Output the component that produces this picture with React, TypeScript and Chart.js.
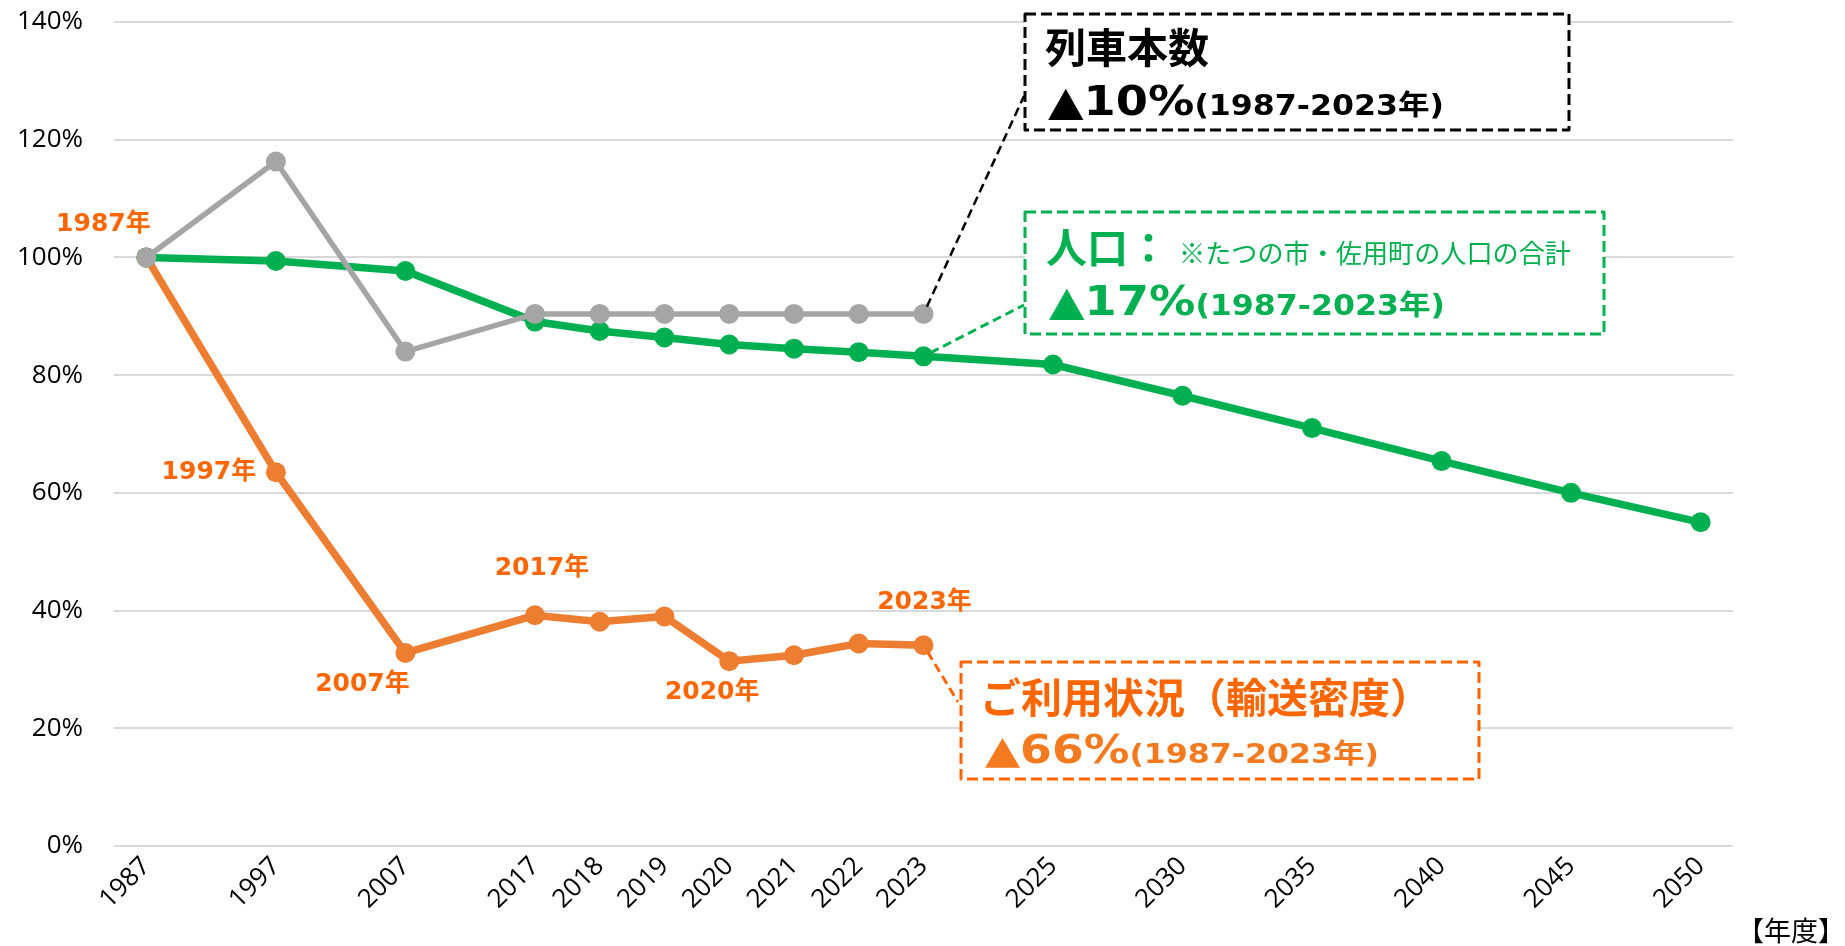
import React, { useEffect, useRef } from 'react';
import { Chart, registerables } from 'chart.js';

Chart.register(...registerables);

// ---------- data ----------
const categories = ['1987', '', '1997', '', '2007', '', '2017', '2018', '2019', '2020', '2021', '2022', '2023', '', '2025', '', '2030', '', '2035', '', '2040', '', '2045', '', '2050'];

const trainService: (number | null)[] = [100, null, 116.3, null, 84.0, null, 90.4, 90.4, 90.4, 90.4, 90.4, 90.4, 90.4, null, null, null, null, null, null, null, null, null, null, null, null];
const population: (number | null)[] = [100, null, 99.4, null, 97.7, null, 89.1, 87.5, 86.4, 85.2, 84.5, 83.9, 83.2, null, 81.8, null, 76.5, null, 71.0, null, 65.4, null, 60.0, null, 55.0];
const ridership: (number | null)[] = [100, null, 63.5, null, 32.8, null, 39.2, 38.1, 39.0, 31.4, 32.4, 34.4, 34.1, null, null, null, null, null, null, null, null, null, null, null, null];

const yTickValues = [0, 20, 40, 60, 80, 100, 120, 140];

const ridershipLabelIndex = [0, 2, 4, 6, 9, 12];
const ridershipLabelText = ['1987年', '1997年', '2007年', '2017年', '2020年', '2023年'];

const trainBoxLines = ['列車本数', '▲10%', '(1987-2023年)'];
const popBoxLines = ['人口：', '※たつの市・佐用町の人口の合計', '▲17%', '(1987-2023年)'];
const rideBoxLines = ['ご利用状況（輸送密度）', '▲66%', '(1987-2023年)'];
const xUnitLabel = '【年度】';

// ---------- styles ----------
const GREEN = '#00B050';
const ORANGE_LINE = '#ED7D31';
const ORANGE_TEXT = '#FF6600';
const ORANGE_TEXT2 = '#F47A20';
const GREY = '#A5A5A5';
const LAT = '"DejaVu Sans", "Noto Sans CJK JP", sans-serif';
const CJK = '"Noto Sans CJK JP", sans-serif';

type Run = { text: string; font: string };

function drawRuns(ctx: CanvasRenderingContext2D, runs: Run[], x: number, baseline: number, color: string, targetWidth?: number) {
  let w = 0;
  for (const r of runs) {
    ctx.font = r.font;
    w += ctx.measureText(r.text).width;
  }
  const sx = targetWidth ? targetWidth / w : 1;
  ctx.save();
  ctx.translate(x, baseline);
  ctx.scale(sx, 1);
  ctx.fillStyle = color;
  ctx.textAlign = 'left';
  ctx.textBaseline = 'alphabetic';
  let cx = 0;
  for (const r of runs) {
    ctx.font = r.font;
    ctx.fillText(r.text, cx, 0);
    cx += ctx.measureText(r.text).width;
  }
  ctx.restore();
}

function dashedRect(ctx: CanvasRenderingContext2D, x: number, y: number, w: number, h: number, color: string) {
  ctx.save();
  ctx.strokeStyle = color;
  ctx.lineWidth = 3;
  ctx.setLineDash([11, 5]);
  ctx.lineJoin = 'round';
  ctx.strokeRect(x, y, w, h);
  ctx.restore();
}

function leader(ctx: CanvasRenderingContext2D, x0: number, y0: number, x1: number, y1: number, color: string, width: number, r: number) {
  const dx = x1 - x0, dy = y1 - y0;
  const len = Math.hypot(dx, dy);
  const sx = x0 + (dx / len) * r, sy = y0 + (dy / len) * r;
  ctx.save();
  ctx.strokeStyle = color;
  ctx.lineWidth = width;
  ctx.setLineDash([9, 5]);
  ctx.beginPath();
  ctx.moveTo(sx, sy);
  ctx.lineTo(x1, y1);
  ctx.stroke();
  ctx.restore();
}

const annotations = {
  id: 'annotations',
  afterDatasetsDraw(chart: any) {
    const ctx: CanvasRenderingContext2D = chart.ctx;
    const greyMeta = chart.getDatasetMeta(0);
    const greenMeta = chart.getDatasetMeta(1);
    const orangeMeta = chart.getDatasetMeta(2);

    // leader lines
    const gp = greyMeta.data[12];
    leader(ctx, gp.x, gp.y, 1024, 96, '#000', 2.5, 8);
    const np = greenMeta.data[12];
    leader(ctx, np.x, np.y, 1024, 305, GREEN, 3, 8);
    const op = orangeMeta.data[12];
    leader(ctx, op.x, op.y, 958, 702, ORANGE_TEXT, 3, 8);

    // ridership point labels
    const offs = [[-43, -33], [-67, 0], [-43, 32], [7, -47], [-17, 31], [1, -43]];
    ctx.save();
    ctx.fillStyle = ORANGE_TEXT;
    ctx.font = `bold 25px ${LAT}`;
    ctx.textAlign = 'center';
    ctx.textBaseline = 'middle';
    ridershipLabelIndex.forEach((idx, i) => {
      const p = orangeMeta.data[idx];
      ctx.fillText(ridershipLabelText[i], p.x + offs[i][0], p.y + offs[i][1]);
    });
    ctx.restore();

    // boxes
    ctx.save();
    ctx.fillStyle = '#fff';
    ctx.fillRect(1025, 14, 544, 116);
    ctx.fillRect(1025, 212, 579, 122);
    ctx.fillRect(961, 662, 518, 117);
    ctx.restore();

    dashedRect(ctx, 1025, 14, 544, 116, '#000');
    drawRuns(ctx, [{ text: trainBoxLines[0], font: `bold 41px ${CJK}` }], 1045, 63, '#000');
    drawRuns(ctx, [{ text: trainBoxLines[1], font: `bold 41px ${LAT}` }, { text: trainBoxLines[2], font: `bold 28px ${LAT}` }], 1048, 115, '#000', 396);

    dashedRect(ctx, 1025, 212, 579, 122, GREEN);
    drawRuns(ctx, [{ text: popBoxLines[0], font: `bold 41px ${CJK}` }], 1046, 263, GREEN);
    drawRuns(ctx, [{ text: popBoxLines[1], font: `26px ${CJK}` }], 1179, 263, GREEN, 392);
    drawRuns(ctx, [{ text: popBoxLines[2], font: `bold 41px ${LAT}` }, { text: popBoxLines[3], font: `bold 28px ${LAT}` }], 1049, 315, GREEN, 396);

    dashedRect(ctx, 961, 662, 518, 117, ORANGE_TEXT);
    drawRuns(ctx, [{ text: rideBoxLines[0], font: `bold 41px ${CJK}` }], 980, 713, ORANGE_TEXT);
    drawRuns(ctx, [{ text: rideBoxLines[1], font: `bold 39px ${LAT}` }, { text: rideBoxLines[2], font: `bold 27px ${LAT}` }], 985, 763, ORANGE_TEXT2, 394);

    // x unit label
    ctx.save();
    ctx.fillStyle = '#000';
    ctx.font = `27px ${CJK}`;
    ctx.textAlign = 'right';
    ctx.textBaseline = 'middle';
    ctx.fillText(xUnitLabel, 1845, 931);
    ctx.restore();
  },
};

export default function App() {
  const ref = useRef<HTMLCanvasElement | null>(null);
  useEffect(() => {
    if (!ref.current) return;
    const chart = new Chart(ref.current, {
      type: 'line',
      data: {
        labels: categories,
        datasets: [
          {
            label: '列車本数',
            data: trainService,
            borderColor: GREY,
            backgroundColor: GREY,
            borderWidth: 5.5,
            pointRadius: 10,
            pointBorderWidth: 0,
            pointBackgroundColor: GREY,
            spanGaps: true,
            tension: 0,
          },
          {
            label: '人口',
            data: population,
            borderColor: GREEN,
            backgroundColor: GREEN,
            borderWidth: 7.5,
            pointRadius: 10,
            pointBorderWidth: 0,
            pointBackgroundColor: GREEN,
            spanGaps: true,
            tension: 0,
          },
          {
            label: 'ご利用状況',
            data: ridership,
            borderColor: ORANGE_LINE,
            backgroundColor: ORANGE_LINE,
            borderWidth: 7.5,
            pointRadius: 10,
            pointBorderWidth: 0,
            pointBackgroundColor: ORANGE_LINE,
            spanGaps: true,
            tension: 0,
          },
        ],
      },
      options: {
        animation: false,
        responsive: true,
        maintainAspectRatio: false,
        layout: { padding: { left: 0, right: 112, top: 22, bottom: 0 } },
        plugins: { legend: { display: false }, tooltip: { enabled: false } },
        scales: {
          x: {
            type: 'category',
            offset: true,
            grid: { display: false, drawTicks: false },
            border: { display: false },
            ticks: {
              autoSkip: false,
              minRotation: 45,
              maxRotation: 45,
              padding: 5,
              color: '#000',
              font: { family: '"Open Sans", sans-serif', size: 26 },
            },
            afterFit: (s: any) => { s.height = 100; s.paddingLeft = 0; s.paddingRight = 0; },
          },
          y: {
            min: 0,
            max: 140,
            afterBuildTicks: (s: any) => { s.ticks = yTickValues.map((v) => ({ value: v })); },
            grid: { color: '#D9D9D9', lineWidth: 2, drawTicks: false },
            border: { display: false },
            ticks: {
              padding: 31,
              color: '#000',
              font: { family: '"Open Sans", sans-serif', size: 26 },
              callback: (v: any) => `${v}%`,
            },
            afterFit: (s: any) => { s.width = 114; s.paddingTop = 0; s.paddingBottom = 0; },
          },
        },
      },
      plugins: [annotations],
    });
    return () => chart.destroy();
  }, []);

  return (
    <div style={{ position: 'fixed', left: 0, top: 0, width: 1845, height: 946, background: '#fff' }}>
      <canvas ref={ref} />
    </div>
  );
}
